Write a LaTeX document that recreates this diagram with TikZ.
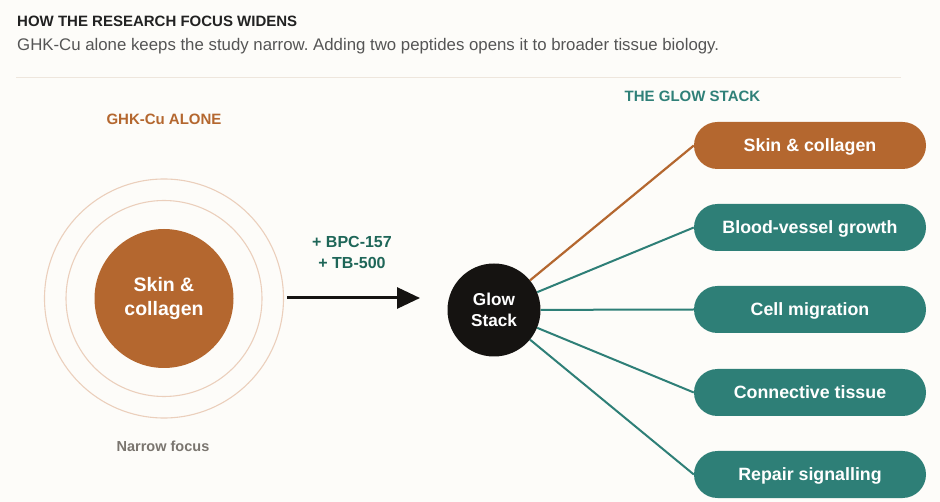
\documentclass[tikz,border=0pt]{standalone}
\usepackage{fontspec}
\setmainfont{Liberation Sans}
\usetikzlibrary{arrows.meta}
\frenchspacing
\definecolor{bg}{HTML}{FDFCF9}
\definecolor{ochre}{HTML}{B4672F}
\definecolor{tealpill}{HTML}{2E7F77}
\definecolor{tealhead}{HTML}{2F8078}
\definecolor{tealdark}{HTML}{1E6658}
\definecolor{ring}{HTML}{EBCFBC}
\definecolor{nearblack}{HTML}{151311}
\definecolor{grayfocus}{HTML}{7A756F}
\definecolor{titlecol}{HTML}{222222}
\definecolor{subcol}{HTML}{555555}
\definecolor{rule}{HTML}{EEE6DD}
\tikzset{
  pill/.style={draw=none, fill=tealpill, rounded corners=23.5pt, minimum width=232pt,
    minimum height=47pt, inner sep=0pt, text=white, text height=12.7pt, text depth=1.5pt,
    font=\fontsize{17.8}{21}\selectfont\bfseries},
  spoke/.style={draw=tealpill, line width=2pt},
  heading/.style={inner sep=0pt, font=\fontsize{15}{18}\selectfont\bfseries},
  ringline/.style={draw=ring, line width=1.1pt},
}
\begin{document}
\begin{tikzpicture}[x=1pt,y=-1pt]
\fill[bg] (0,0) rectangle (940,502);
\useasboundingbox (0,0) rectangle (940,502);

% header
\node[anchor=west, inner sep=0pt, text=titlecol, font=\fontsize{15}{17}\selectfont\bfseries] (title) at (17,21) {HOW THE RESEARCH FOCUS WIDENS};
\node[anchor=base west, inner sep=0pt, text=subcol, font=\fontsize{16.8}{19}\selectfont] (sub) at (17,51) {GHK-Cu alone keeps the study narrow. Adding two peptides opens it to broader tissue biology.};
\coordinate (r1) at (16,77.7);
\coordinate (r2) at (901,77.7);
\draw[draw=rule, line width=1.5pt] (r1) -- (r2);

% left side
\node[heading, text=ochre] (lefthead) at (164,119) {GHK-Cu ALONE};
\node[circle, ringline, minimum size=239pt, inner sep=0pt] (outer) at (164,298.5) {};
\node[circle, ringline, minimum size=196pt, inner sep=0pt] (middle) at (164,298.5) {};
\node[circle, fill=ochre, minimum size=139pt, inner sep=0pt, text=white, align=center,
  font=\fontsize{19.5}{24}\selectfont\bfseries] (core) at (164,298.5) {Skin \&\\collagen};
\node[inner sep=0pt, text=grayfocus, font=\fontsize{14.5}{17}\selectfont\bfseries, text height=10.5pt, text depth=0pt] (narrow) at (163,446) {Narrow focus};

% arrow
\coordinate (a1) at (287,298);
\coordinate (a2) at (420,298);
\draw[draw=nearblack, line width=3pt, -{Triangle[length=23pt,width=21pt]}] (a1) -- (a2);
\node[inner sep=0pt, text=tealdark, align=center, font=\fontsize{16}{21}\selectfont\bfseries] (plus) at (352,252.5) {+ BPC-157\\+ TB-500};

% glow stack
\node[circle, fill=nearblack, minimum size=93pt, inner sep=0pt, text=white, align=center,
  font=\fontsize{17.2}{21}\selectfont\bfseries] (glow) at (494,310) {Glow\\Stack};

% right side
\node[heading, text=tealhead] (righthead) at (692.5,96) {THE GLOW STACK};
\node[pill, fill=ochre] (p1) at (810,145.5) {Skin \& collagen};
\node[pill] (p2) at (810,227.5) {Blood-vessel growth};
\node[pill] (p3) at (810,309.5) {Cell migration};
\node[pill] (p4) at (810,392.5) {Connective tissue};
\node[pill] (p5) at (810,474.5) {Repair signalling};

\draw[draw=ochre, line width=2.2pt] (glow) -- (p1.west);
\draw[spoke] (glow) -- (p2.west);
\draw[spoke] (glow) -- (p3.west);
\draw[spoke] (glow) -- (p4.west);
\draw[spoke] (glow) -- (p5.west);
\end{tikzpicture}
\end{document}
